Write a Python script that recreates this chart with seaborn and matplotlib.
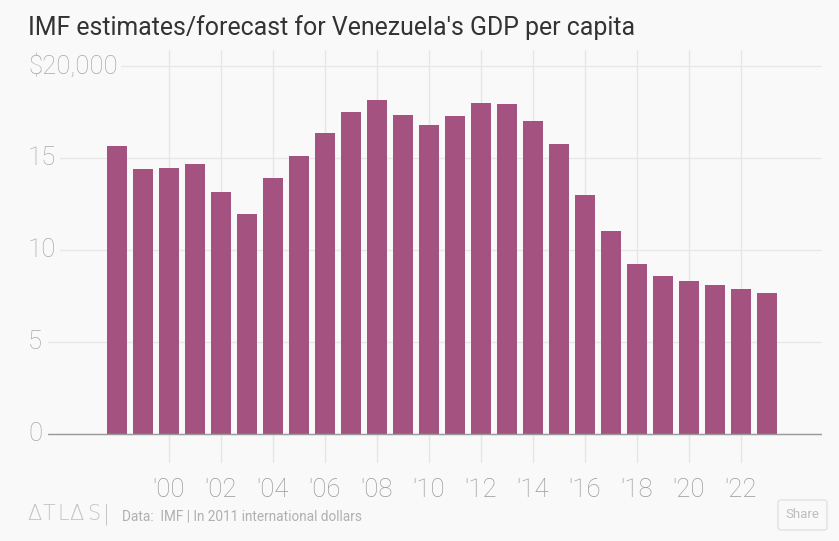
import matplotlib
matplotlib.use("Agg")
import matplotlib.pyplot as plt
import seaborn as sns
import pandas as pd
from matplotlib.patches import FancyBboxPatch

years = list(range(1998, 2024))
gdp_per_capita = [15650, 14400, 14460, 14670, 13150, 11960, 13910, 15110, 16360, 17500,
                  18150, 17340, 16790, 17280, 17990, 17930, 17010, 15760, 12990, 11030,
                  9240, 8590, 8320, 8100, 7880, 7660]
tick_years = list(range(2000, 2023, 2))
tick_labels = ["'%02d" % (y % 100) for y in tick_years]
ytick_values = [0, 5000, 10000, 15000, 20000]
ytick_labels = ["0", "5", "10", "15", "$20,000"]

BG = "#f9f9f9"
BAR = "#a4527f"

sns.set_theme(style="white")
plt.rcParams["font.family"] = ["Roboto", "DejaVu Sans"]

W, H = 839, 541
fig = plt.figure(figsize=(W / 100, H / 100), dpi=100, facecolor=BG)

def fx(px):
    return px / W

def fy(py):
    return 1 - py / H

ax = fig.add_axes([fx(48), fy(463), fx(822) - fx(48), fy(50) - fy(463)])
ax.set_facecolor(BG)

df = pd.DataFrame({"year": [str(y) for y in years], "gdp": gdp_per_capita})
sns.barplot(data=df, x="year", y="gdp", color=BAR, saturation=1, width=0.77,
            ax=ax, zorder=2)
for p in ax.patches:
    p.set_edgecolor("none")

ymax = (434 - 50) / 18.4 * 1000
ymin = -(463 - 434) / 18.4 * 1000
ax.set_ylim(ymin, ymax)
ax.set_xlim((48 - 117) / 26, (822 - 117) / 26)

for s in ax.spines.values():
    s.set_visible(False)

ax.set_axisbelow(True)
tick_pos = [years.index(y) for y in tick_years]
ax.set_xticks(tick_pos)
ax.set_xticklabels(tick_labels)
ax.tick_params(axis="x", length=0, pad=11, labelsize=18.5, labelcolor="#9a9a9a")
for lbl in ax.get_xticklabels():
    lbl.set_fontweight("light")
ax.xaxis.grid(True, color="#e6e6e6", linewidth=1)

ax.set_yticks(ytick_values)
ax.set_yticklabels([])
ax.tick_params(axis="y", length=0)
ax.yaxis.grid(True, color="#e8e8e8", linewidth=1)
ax.axhline(0, color="#9a9a9a", linewidth=1, zorder=3)
ax.set_xlabel("")
ax.set_ylabel("")

ytrans = matplotlib.transforms.blended_transform_factory(fig.transFigure, ax.transData)
for v, lab in zip(ytick_values, ytick_labels):
    ax.text(fx(28), v, lab, transform=ytrans, ha="left", va="center",
            fontsize=18.5, color="#a8a8a8", fontweight="light", zorder=5, clip_on=False,
            bbox=dict(boxstyle="square,pad=0.15", facecolor=BG, edgecolor="none"))

fig.text(fx(28), fy(28), "IMF estimates/forecast for Venezuela's GDP per capita",
         ha="left", va="center", fontsize=17.9, color="#333333")

logo_chars = ["Δ", "T", "L", "Δ", "S", "|"]
logo_x = [27, 43, 58, 69, 87, 103]
for ch, x in zip(logo_chars, logo_x):
    fig.text(fx(x), fy(514), ch, ha="left", va="center", fontsize=15,
             color="#c4c4c4", fontweight="light", family=["DejaVu Sans"])
fig.text(fx(122), fy(517), "Data:  IMF | In 2011 international dollars", ha="left",
         va="center", fontsize=9.8, color="#b0b0b0")

btn = FancyBboxPatch((fx(778), fy(530)), fx(827) - fx(778), fy(500) - fy(530),
                     boxstyle="round,pad=0,rounding_size=0.004",
                     transform=fig.transFigure, facecolor=BG, edgecolor="#e2e2e2",
                     linewidth=1)
fig.patches.append(btn)
fig.text(fx(802), fy(515), "Share", ha="center", va="center", fontsize=9.5,
         color="#bdbdbd")

fig.savefig("out.png", dpi=100, facecolor=BG)
